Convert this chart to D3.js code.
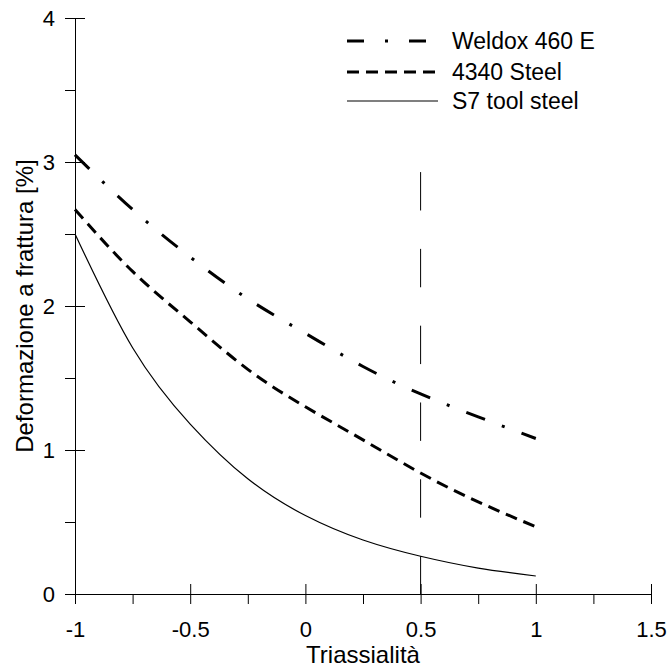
<!DOCTYPE html>
<html>
<head>
<meta charset="utf-8">
<script src="https://cdn.jsdelivr.net/npm/d3@7"></script>
<style>
  body { margin: 0; background: #fff; }
  svg text { font-family: "Liberation Sans", Arial, sans-serif; fill: #000; }
</style>
</head>
<body>
<svg id="chart" width="670" height="668"></svg>
<script>
// triaxiality values where the curves were read
const triax = [-1, -0.75, -0.5, -0.25, 0, 0.25, 0.5, 0.75, 1];
const weldox = [3.05, 2.67, 2.34, 2.05, 1.81, 1.58, 1.39, 1.23, 1.08];
const steel4340 = [2.67, 2.24, 1.89, 1.56, 1.30, 1.07, 0.84, 0.64, 0.467];
const s7tool = [2.5, 1.71, 1.18, 0.80, 0.545, 0.375, 0.262, 0.18, 0.125];

const seriesNames = ["Weldox 460 E", "4340 Steel", "S7 tool steel"];
const xMajor = [-1, -0.5, 0, 0.5, 1, 1.5];
const xMinor = [-0.75, -0.25, 0.25, 0.75, 1.25];
const yMajor = [0, 1, 2, 3, 4];
const yMinor = [0.5, 1.5, 2.5, 3.5];
const refLine = { x: 0.5, y0: 0, y1: 2.93 };

const svg = d3.select("#chart");

const x = d3.scaleLinear().domain([-1, 1.5]).range([75, 651]);
const y = d3.scaleLinear().domain([0, 4]).range([594, 18]);

// plain hyphen for negatives, like the original
const fmt = d => String(d);

// ---- axes ----
// x: all ticks below, major ticks also above the line
svg.append("g")
  .attr("transform", `translate(0,${y(0)})`)
  .call(d3.axisBottom(x).tickValues(xMajor.concat(xMinor)).tickSizeInner(10).tickSizeOuter(0).tickFormat(""))
  .call(g => g.selectAll("line,path").attr("stroke", "#000"));
svg.append("g")
  .attr("transform", `translate(0,${y(0)})`)
  .call(d3.axisBottom(x).tickValues(xMajor).tickSizeInner(-10).tickSizeOuter(0).tickPadding(27).tickFormat(fmt))
  .call(g => g.select(".domain").remove())
  .call(g => g.selectAll("line").attr("stroke", "#000"))
  .call(g => g.selectAll("text").attr("font-size", 22).attr("font-family", null));

// y: all ticks left, major ticks also right of the line
svg.append("g")
  .attr("transform", `translate(${x(-1)},0)`)
  .call(d3.axisLeft(y).tickValues(yMajor.concat(yMinor)).tickSizeInner(10).tickSizeOuter(0).tickFormat(""))
  .call(g => g.selectAll("line,path").attr("stroke", "#000"));
svg.append("g")
  .attr("transform", `translate(${x(-1)},0)`)
  .call(d3.axisLeft(y).tickValues(yMajor).tickSizeInner(-10).tickSizeOuter(0).tickPadding(20).tickFormat(fmt))
  .call(g => g.select(".domain").remove())
  .call(g => g.selectAll("line").attr("stroke", "#000"))
  .call(g => g.selectAll("text").attr("font-size", 22).attr("font-family", null));

// axis titles
svg.append("text")
  .attr("x", (x(-1) + x(1.5)) / 2)
  .attr("y", 663)
  .attr("text-anchor", "middle")
  .attr("font-size", 24)
  .text("Triassialità");

svg.append("text")
  .attr("transform", `translate(33,${(y(0) + y(4)) / 2}) rotate(-90)`)
  .attr("text-anchor", "middle")
  .attr("font-size", 24)
  .text("Deformazione a frattura [%]");

// ---- reference line at triaxiality 0.5 ----
svg.append("line")
  .attr("x1", x(refLine.x)).attr("x2", x(refLine.x))
  .attr("y1", y(refLine.y1)).attr("y2", y(refLine.y0))
  .attr("stroke", "#000")
  .attr("stroke-width", 1)
  .attr("stroke-dasharray", "38.4,38.4");

// ---- curves ----
const styles = [
  { dash: "20,18,3,18", width: 3 },
  { dash: "12,7", width: 3 },
  { dash: null, width: 1.2 }
];
const allSeries = [weldox, steel4340, s7tool];

const line = d3.line()
  .x((d, i) => x(triax[i]))
  .y(d => y(d))
  .curve(d3.curveNatural);

allSeries.forEach((vals, k) => {
  svg.append("path")
    .datum(vals)
    .attr("d", line)
    .attr("fill", "none")
    .attr("stroke", "#000")
    .attr("stroke-width", styles[k].width)
    .attr("stroke-dasharray", styles[k].dash);
});

// ---- legend ----
const legendY = [41, 72, 101];
const legendEnd = [430, 435, 438];
seriesNames.forEach((name, k) => {
  svg.append("line")
    .attr("x1", 347).attr("x2", legendEnd[k])
    .attr("y1", legendY[k]).attr("y2", legendY[k])
    .attr("stroke", "#000")
    .attr("stroke-width", styles[k].width)
    .attr("stroke-dasharray", k === 0 ? "17,21,3,21" : styles[k].dash);
  svg.append("text")
    .attr("x", 452)
    .attr("y", legendY[k])
    .attr("dy", "0.35em")
    .attr("font-size", 23)
    .text(name);
});
</script>
</body>
</html>
